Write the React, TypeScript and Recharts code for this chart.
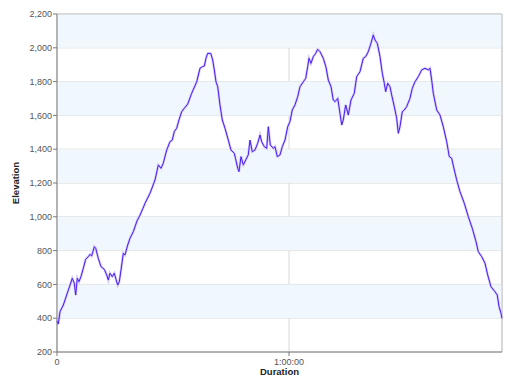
import React from 'react';
import { LineChart, Line, XAxis, YAxis, CartesianGrid, ReferenceArea, ReferenceLine } from 'recharts';

// elapsed time in seconds
const seconds: number[] = [
  0, 20, 47, 98, 150, 202, 237, 268, 290, 315, 341, 372, 408, 445, 486, 512, 538, 579, 601, 641,
  683, 734, 771, 796, 822, 858, 889, 911, 942, 967, 993, 1029, 1055, 1097, 1133, 1184, 1241, 1288, 1334, 1366,
  1443, 1521, 1572, 1614, 1649, 1702, 1753, 1789, 1820, 1857, 1893, 1935, 1975, 2028, 2090, 2168, 2219, 2255, 2286, 2312,
  2338, 2385, 2416, 2441, 2467, 2494, 2529, 2565, 2607, 2658, 2700, 2751, 2770, 2804, 2824, 2855, 2891, 2928, 2968, 2995,
  3030, 3072, 3114, 3150, 3176, 3217, 3254, 3279, 3310, 3356, 3383, 3418, 3460, 3496, 3538, 3580, 3615, 3651, 3693, 3735,
  3771, 3822, 3859, 3890, 3910, 3941, 3977, 4014, 4045, 4081, 4132, 4174, 4210, 4252, 4287, 4314, 4356, 4391, 4418, 4442,
  4480, 4520, 4562, 4613, 4650, 4702, 4753, 4790, 4830, 4872, 4908, 4934, 4970, 5012, 5048, 5079, 5100, 5131, 5167, 5193,
  5234, 5271, 5296, 5322, 5358, 5389, 5426, 5477, 5513, 5555, 5606, 5659, 5710, 5761, 5788, 5814, 5839, 5892, 5943, 5994,
  6047, 6087, 6124, 6165, 6202, 6253, 6320, 6382, 6444, 6502, 6537, 6590, 6641, 6683, 6734, 6796, 6832, 6859, 6890, 6905,
];

const elevation: number[] = [
  385, 365, 439, 478, 537, 596, 636, 607, 537, 636, 616, 646, 695, 749, 764, 778, 768, 823, 813, 754,
  705, 689, 656, 626, 666, 646, 666, 636, 596, 616, 685, 784, 774, 833, 873, 912, 975, 1010, 1050, 1080,
  1139, 1218, 1307, 1287, 1317, 1395, 1444, 1454, 1504, 1524, 1573, 1622, 1642, 1667, 1731, 1799, 1879, 1888, 1892, 1938,
  1967, 1967, 1928, 1869, 1799, 1770, 1662, 1573, 1524, 1454, 1395, 1376, 1345, 1287, 1267, 1356, 1307, 1336, 1366, 1454,
  1385, 1395, 1435, 1484, 1444, 1415, 1405, 1533, 1425, 1405, 1415, 1356, 1366, 1415, 1454, 1533, 1563, 1632, 1662, 1711,
  1770, 1799, 1819, 1888, 1938, 1908, 1948, 1967, 1991, 1977, 1938, 1885, 1809, 1770, 1691, 1681, 1701, 1612, 1543, 1573,
  1662, 1602, 1691, 1731, 1829, 1859, 1938, 1948, 1977, 2027, 2076, 2046, 2027, 1948, 1849, 1790, 1740, 1790, 1770, 1721,
  1652, 1583, 1494, 1533, 1622, 1632, 1652, 1701, 1760, 1799, 1829, 1869, 1879, 1869, 1879, 1809, 1731, 1632, 1602, 1533,
  1444, 1356, 1346, 1277, 1218, 1149, 1080, 1001, 932, 853, 794, 764, 725, 656, 586, 557, 537, 468, 429, 399,
];

const yTicks = [200, 400, 600, 800, 1000, 1200, 1400, 1600, 1800, 2000, 2200];
const xTicks = [0, 3600];
const totalSeconds = 6905;

const data = seconds.map((t, i) => ({ t, elev: elevation[i] }));

// shaded bands on every other interval, starting at 400-600
const bands = yTicks.slice(1, -1).filter((_, i) => i % 2 === 0).map((v) => [v, v + 200]);

const font = '"Liberation Sans", Arial, sans-serif';

const fmtTime = (v: number) => {
  if (v === 0) return '0';
  const h = Math.floor(v / 3600);
  const m = Math.floor((v % 3600) / 60);
  const s = v % 60;
  return `${h}:${String(m).padStart(2, '0')}:${String(s).padStart(2, '0')}`;
};

export default function App() {
  return (
    <div style={{ position: 'absolute', left: 0, top: 0, width: 512, height: 383, background: '#fff' }}>
      <LineChart width={512} height={383} data={data} margin={{ top: 14, right: 10, left: 0, bottom: 0 }}>
        {bands.map(([a, b]) => (
          <ReferenceArea key={a} y1={a} y2={b} x1={0} x2={totalSeconds} fill="#f0f8fd" fillOpacity={1} stroke="none" />
        ))}
        <CartesianGrid stroke="#d8d8d8" strokeDasharray="" />
        <ReferenceLine x={totalSeconds} stroke="#c4c4c4" />
        <ReferenceLine y={2200} stroke="#c4c4c4" />
        <XAxis
          dataKey="t"
          type="number"
          domain={[0, totalSeconds]}
          ticks={xTicks}
          tickFormatter={fmtTime}
          height={31}
          tickSize={4}
          tickMargin={3}
          stroke="#7a7a7a"
          tick={{ fill: '#555', fontSize: 9, fontFamily: font }}
          label={{ value: 'Duration', position: 'insideBottom', offset: 8, fill: '#222', fontSize: 9.5, fontWeight: 'bold', fontFamily: font }}
        />
        <YAxis
          type="number"
          domain={[200, 2200]}
          ticks={yTicks}
          tickFormatter={(v: number) => v.toLocaleString('en-US')}
          width={57}
          tickSize={4}
          tickMargin={1}
          stroke="#7a7a7a"
          tick={{ fill: '#555', fontSize: 9, fontFamily: font }}
          label={{ value: 'Elevation', angle: -90, position: 'insideLeft', offset: 16, fill: '#222', fontSize: 9.5, fontWeight: 'bold', fontFamily: font, style: { textAnchor: 'middle' } }}
        />
        <Line type="linear" dataKey="elev" stroke="#cfc4f7" strokeWidth={2.4} dot={false} isAnimationActive={false} />
        <Line type="linear" dataKey="elev" stroke="#4b1ef2" strokeWidth={1} dot={false} isAnimationActive={false} />
      </LineChart>
    </div>
  );
}
